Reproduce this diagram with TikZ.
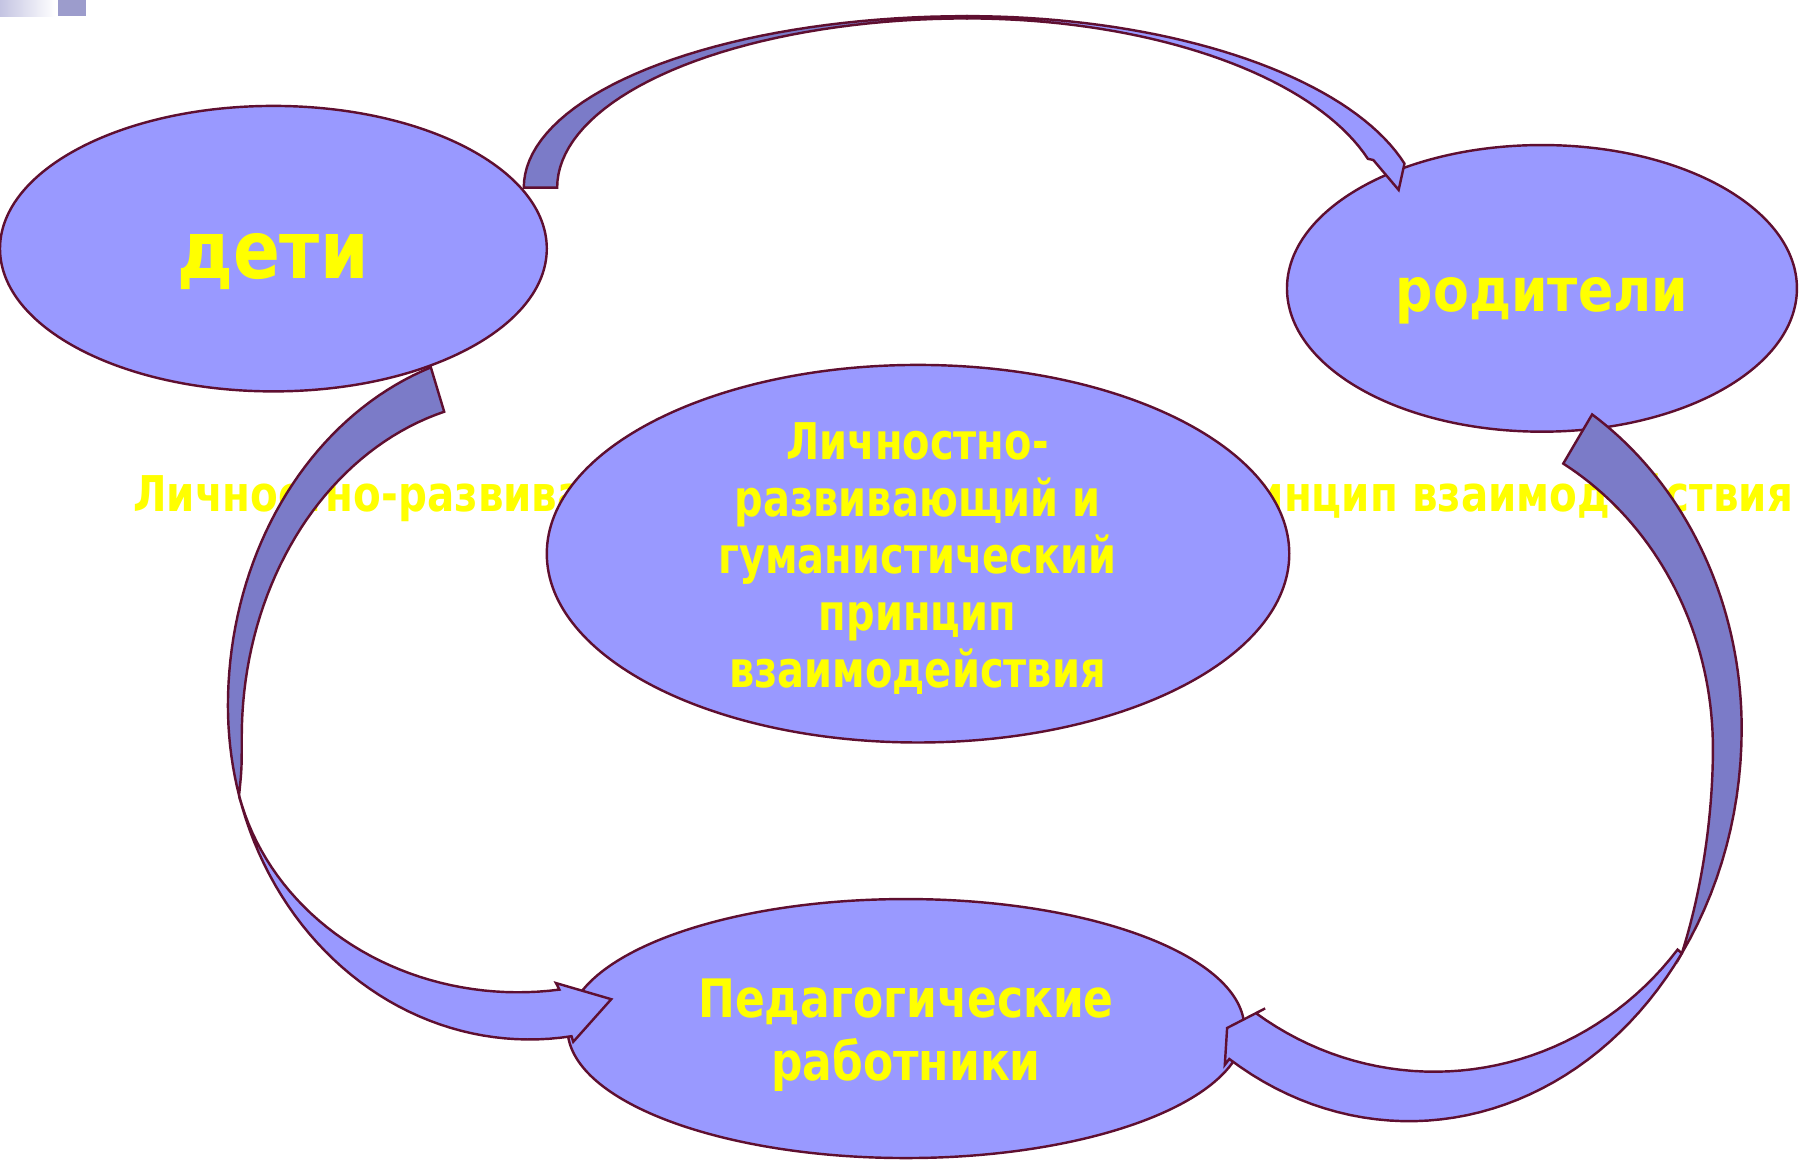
\documentclass[tikz,border=0pt]{standalone}
\usepackage{fontspec}
\newfontfamily\tfont{DejaVu Sans}[FakeStretch=0.86]
\newfontfamily\bgfont{DejaVu Sans}[FakeStretch=0.82]
\newfontfamily\cfont{DejaVu Sans}[FakeStretch=0.79]
\newfontfamily\pfont{DejaVu Sans}[FakeStretch=0.83]
\usetikzlibrary{shapes.geometric}
\definecolor{lightfill}{HTML}{9999FF}
\definecolor{darkfill}{HTML}{7B7BC8}
\definecolor{edgecol}{HTML}{5F0F30}
\definecolor{txtyellow}{HTML}{FFFF00}
\definecolor{decorA}{HTML}{C4C4E2}
\definecolor{decorB}{HTML}{9C9CCC}
\begin{document}
\begin{tikzpicture}[x=0.1mm,y=-0.1mm,
  ell/.style={ellipse, draw=edgecol, fill=lightfill, line width=0.6pt, inner sep=0pt},
  bandlight/.style={draw=edgecol, fill=lightfill, line width=0.6pt, line join=miter},
  banddark/.style={draw=edgecol, fill=darkfill, line width=0.6pt, line join=miter},
  lbl/.style={text=txtyellow, inner sep=0pt},
  ep/.style={samples=40, variable=\t}]
\useasboundingbox (0,0) rectangle (1568,1015);
% decoration top-left
\shade[left color=decorA, right color=white] (0,0) rectangle (48,14);
\fill[decorB] (50,0) rectangle (75,14);
% background text
\node[lbl, anchor=base west, font=\bgfont\bfseries\fontsize{12.18}{14}\selectfont] (bgtext) at (115,444)
  {Личностно-развивающий и гуманистический принцип взаимодействия};
% ellipses
\node[ell, minimum width=47.5mm, minimum height=24.8mm] (deti) at (237.5,216) {};
\node[ell, minimum width=44.3mm, minimum height=24.9mm] (rod) at (1339.5,250.5) {};
\node[ell, minimum width=64.5mm, minimum height=32.8mm] (princ) at (797.5,481) {};
\node[ell, minimum width=58.8mm, minimum height=22.5mm] (ped) at (787,893.5) {};
% texts
\node[lbl, anchor=base, font=\tfont\bfseries\fontsize{19.9}{24}\selectfont] (tdeti) at (237,242) {дети};
\node[lbl, anchor=base, font=\tfont\bfseries\fontsize{15}{18}\selectfont] (trod) at (1339.5,271) {родители};
\node[lbl, align=center, font=\cfont\bfseries\fontsize{12.5}{14.1}\selectfont] (tprinc) at (797,485)
  {Личностно-\\развивающий и\\гуманистический\\принцип\\взаимодействия};
\node[lbl, align=center, font=\pfont\bfseries\fontsize{13.1}{15.65}\selectfont] (tped) at (787,899)
  {Педагогические\\работники};
% top arrow: deti -> rod
\filldraw[banddark] plot[ep, domain=180:270] ({840+385*cos(\t)},{163+149*sin(\t)})
  -- plot[ep, domain=270:180] ({840+356*cos(\t)},{163+147*sin(\t)}) -- cycle;
\filldraw[bandlight] plot[ep, domain=270:344.2] ({840+395*cos(\t)},{190+176*sin(\t)})
  -- (1215,165) -- (1193,139)
  -- plot[ep, domain=342.6:270] ({840+365*cos(\t)},{190+174*sin(\t)}) -- cycle;
% left arrow: deti -> ped
\filldraw[banddark] plot[ep, domain=250.9:180] ({460+262*cos(\t)},{613+311*sin(\t)})
  -- plot[ep, domain=180:164.4, samples=10] ({460+262*cos(\t)},{613+290*sin(\t)})
  .. controls (210,668) .. (210,640)
  -- plot[ep, domain=180:254.5] ({450+240*cos(\t)},{640+293*sin(\t)}) -- cycle;
\filldraw[bandlight] plot[ep, domain=164.4:82] ({460+262*cos(\t)},{613+290*sin(\t)})
  -- (498,905) -- (531,868) -- (483,854)
  -- plot[ep, domain=81.7:166.7] ({450+249*cos(\t)},{640+222*sin(\t)}) -- cycle;
% right arrow: rod -> ped
\filldraw[banddark] plot[ep, domain=303.4:360] ({1224+289*cos(\t)},{633+327*sin(\t)})
  -- plot[ep, domain=0:34.9, samples=15] ({1224+289*cos(\t)},{633+341*sin(\t)})
  .. controls (1478,775) and (1488,710) .. (1488,650)
  -- plot[ep, domain=360:300.5] ({1224+264*cos(\t)},{650+287*sin(\t)}) -- cycle;
\filldraw[bandlight] plot[ep, domain=34.9:122.7] ({1224+289*cos(\t)},{633+341*sin(\t)})
  -- (1064,925) -- (1066,893) -- (1099,876)
  -- plot[ep, domain=125:38.5] ({1246+270*cos(\t)},{650+281*sin(\t)}) -- cycle;
\end{tikzpicture}
\end{document}
